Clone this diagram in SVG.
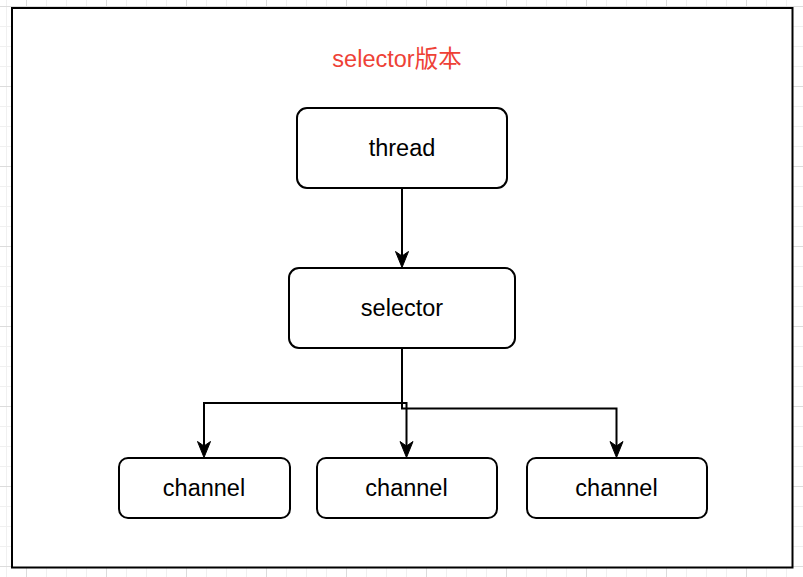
<svg xmlns="http://www.w3.org/2000/svg" width="803" height="577" viewBox="0 0 803 577">
  <defs>
    <pattern id="grid" patternUnits="userSpaceOnUse" x="26" y="6" width="80" height="80">
      <path d="M20.5 0V80M40.5 0V80M60.5 0V80M0 20.5H80M0 40.5H80M0 60.5H80" stroke="#f0f0f0" stroke-width="1" fill="none"/>
      <path d="M0.5 0V80M0 0.5H80" stroke="#dcdcdc" stroke-width="1" fill="none"/>
    </pattern>
    <marker id="arrow" markerUnits="userSpaceOnUse" viewBox="-8 -8 20 16" refX="0" refY="0" markerWidth="20" markerHeight="16" orient="auto">
      <path d="M10 0L-6 -6.5L-1.5 0L-6 6.5Z" fill="#000" stroke="#000" stroke-width="1"/>
    </marker>
    <style>
      .node rect { fill: #fff; stroke: #000; stroke-width: 2; }
      .node text { font-family: "Liberation Sans", Arial, sans-serif; font-size: 23.5px; fill: #000; text-anchor: middle; }
      .conn path { fill: none; stroke: #000; stroke-width: 2; }
      .title { font-family: "Liberation Sans", "Noto Sans CJK SC", sans-serif; font-size: 23.5px; fill: #ee4136; text-anchor: middle; }
    </style>
  </defs>
  <rect x="0" y="0" width="803" height="577" fill="#fff"/>
  <rect x="0" y="0" width="803" height="577" fill="url(#grid)"/>
  <rect id="frame" x="12" y="8" width="780.5" height="559.5" fill="#fff" stroke="#000" stroke-width="2"/>
  <text class="title" x="397" y="67">selector版本</text>

  <g class="conn" id="connectors">
    <path d="M402 188V257.5" marker-end="url(#arrow)"/>
    <path d="M402 348V403H204V447.5" marker-end="url(#arrow)"/>
    <path d="M402 348V403H406.5V447.5" marker-end="url(#arrow)"/>
    <path d="M402 348V408.5H616.5V447.5" marker-end="url(#arrow)"/>
  </g>

  <g class="node" id="thread">
    <rect x="297" y="108" width="210" height="80" rx="10"/>
    <text x="402" y="156">thread</text>
  </g>
  <g class="node" id="selector">
    <rect x="289" y="268" width="226" height="80" rx="10"/>
    <text x="402" y="316">selector</text>
  </g>
  <g class="node" id="channel1">
    <rect x="119" y="458" width="171" height="60" rx="9"/>
    <text x="204" y="496">channel</text>
  </g>
  <g class="node" id="channel2">
    <rect x="317" y="458" width="180" height="60" rx="9"/>
    <text x="406.5" y="496">channel</text>
  </g>
  <g class="node" id="channel3">
    <rect x="527" y="458" width="180" height="60" rx="9"/>
    <text x="616.5" y="496">channel</text>
  </g>
</svg>
